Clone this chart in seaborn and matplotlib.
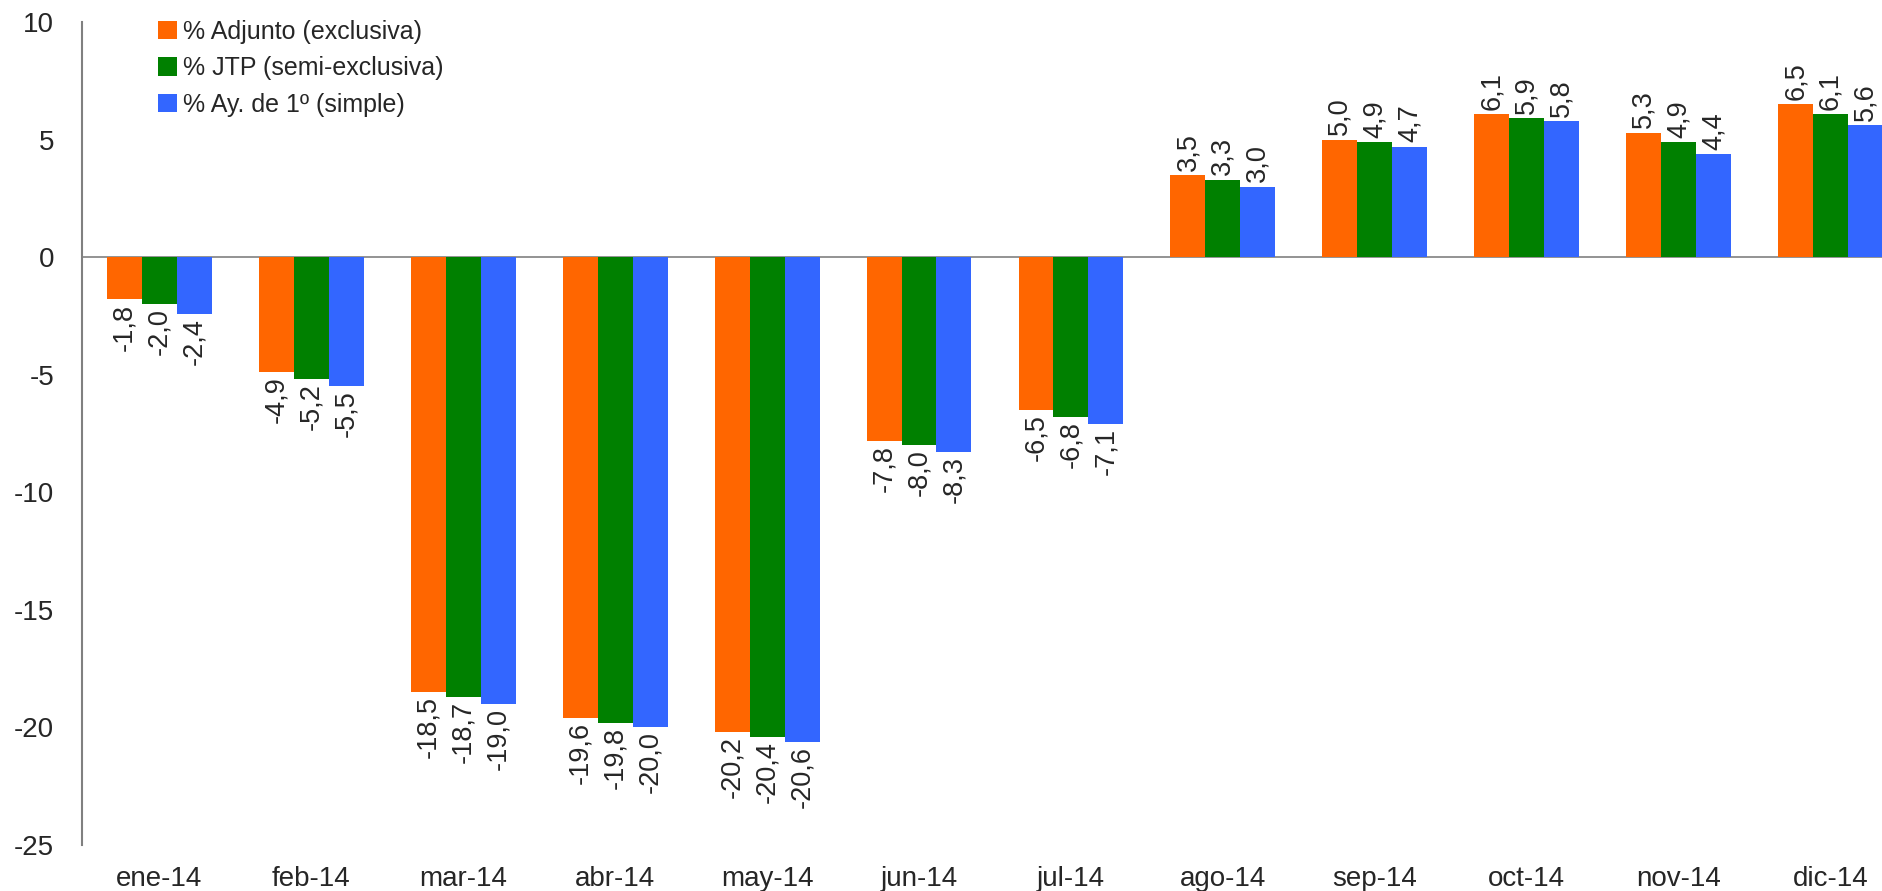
import pandas as pd
import matplotlib
matplotlib.use('Agg')
import matplotlib.pyplot as plt
import seaborn as sns

# Monthly values
months = ["ene-14", "feb-14", "mar-14", "abr-14", "may-14", "jun-14",
          "jul-14", "ago-14", "sep-14", "oct-14", "nov-14", "dic-14"]
adjunto = [-1.8, -4.9, -18.5, -19.6, -20.2, -7.8, -6.5, 3.5, 5.0, 6.1, 5.3, 6.5]
jtp = [-2.0, -5.2, -18.7, -19.8, -20.4, -8.0, -6.8, 3.3, 4.9, 5.9, 4.9, 6.1]
ayudante = [-2.4, -5.5, -19.0, -20.0, -20.6, -8.3, -7.1, 3.0, 4.7, 5.8, 4.4, 5.6]
series_names = ["% Adjunto (exclusiva)", "% JTP (semi-exclusiva)", "% Ay. de 1º (simple)"]
colors = ["#FF6600", "#008000", "#3366FF"]
yticks = [10, 5, 0, -5, -10, -15, -20, -25]

sns.set_theme(style="white")
plt.rcParams['font.family'] = ['Liberation Sans', 'DejaVu Sans']

df = pd.DataFrame({
    "mes": months * 3,
    "valor": adjunto + jtp + ayudante,
    "serie": [series_names[0]] * 12 + [series_names[1]] * 12 + [series_names[2]] * 12,
})

fig = plt.figure(figsize=(18.83, 8.91), dpi=100)
ax = fig.add_axes([0.0435, 0.0516, 0.9565, 0.9237])

sns.barplot(data=df, x="mes", y="valor", hue="serie", order=months,
            hue_order=series_names, palette=colors, width=0.69, gap=0,
            saturation=1, errorbar=None, linewidth=0, ax=ax)

for cont in ax.containers:
    vals = [b.get_height() for b in cont]
    ax.bar_label(cont, labels=[f"{v:.1f}".replace(".", ",") for v in vals],
                 rotation=90, padding=3, fontsize=19.5)

ax.axhline(0, color="#808080", linewidth=1.2, zorder=0)
ax.set_ylim(-25, 10)
ax.set_xlim(-0.51, 11.345)
ax.set_yticks(yticks)
ax.set_yticklabels([str(t) for t in yticks])
ax.tick_params(axis="y", labelsize=20, pad=20, length=0)
ax.tick_params(axis="x", labelsize=20, pad=15, length=0)
ax.set_xlabel("")
ax.set_ylabel("")

sns.despine(ax=ax, bottom=True, right=True, top=True)
ax.spines["left"].set_color("#808080")
ax.spines["left"].set_linewidth(1.5)

ax.legend(loc="upper left", bbox_to_anchor=(0.03, 1.03), frameon=False,
          fontsize=18, handlelength=0.75, handleheight=0.75,
          handletextpad=0.25, labelspacing=0.5)

plt.savefig("out.png", dpi=100)
plt.close('all')
